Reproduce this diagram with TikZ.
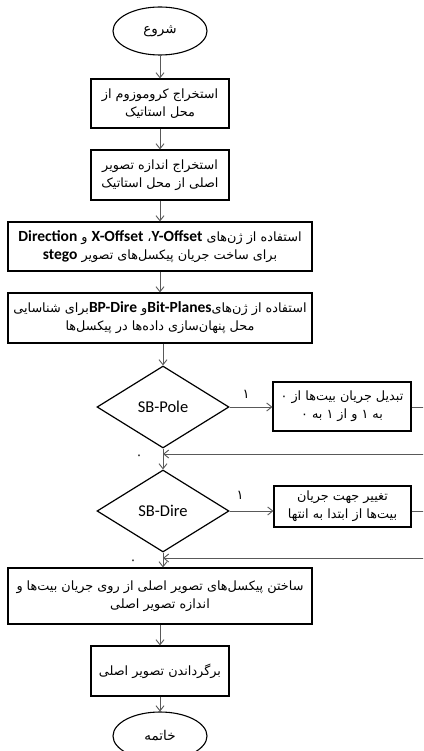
\documentclass[tikz,border=0pt]{standalone}
\usepackage{fontspec}
\usetikzlibrary{shapes.geometric,arrows.meta}
\TeXXeTstate=1
\newfontfamily\arf[Script=Arabic]{DejaVu Sans}
\newfontfamily\latf{Carlito}
\newcommand\rtl[1]{\beginR #1\endR}
\newcommand\lb[1]{{\latf\bfseries\fontsize{15.5}{18}\selectfont\beginL #1\endL}}
\tikzset{
  box/.style={draw=black, line width=1.2pt, minimum width=138pt, minimum height=49pt,
    align=center, inner sep=1pt, font={\arf\fontsize{12.8}{18}\selectfont}},
  wbox/.style={box, minimum width=304pt},
  term/.style={ellipse, draw=black, line width=1.1pt, minimum width=94pt, minimum height=48pt,
    inner sep=0pt, font={\arf\fontsize{13.5}{18}\selectfont}},
  dec/.style={diamond, draw=black, line width=1.2pt, minimum width=132pt, minimum height=82pt,
    inner sep=0pt, font={\latf\fontsize{16.5}{18}\selectfont}},
  arr/.style={draw=black!65, line width=0.9pt, -{Straight Barb[length=5pt,width=8pt]}},
  ln/.style={draw=black!65, line width=0.9pt},
  lab/.style={font={\arf\fontsize{13}{14}\selectfont}, inner sep=0pt}
}
\begin{document}
\begin{tikzpicture}[x=1pt,y=-1pt]
\path[use as bounding box, fill=white] (0,0) rectangle (423,751);
\clip (0,0) rectangle (423,751);
\node[term] (st) at (160,31) {\rtl{شروع}};
\node[box] (b1) at (160,103.5) {\rtl{استخراج کروموزوم از}\\\rtl{محل استاتیک}};
\node[box, minimum height=50pt] (b2) at (160,175) {\rtl{استخراج اندازه تصویر}\\\rtl{اصلی از محل استاتیک}};
\node[wbox] (b3) at (160,246.5) {\rtl{استفاده از ژن‌های \lb{Y-Offset}، \lb{X-Offset} و \lb{Direction}}\\\rtl{برای ساخت جریان پیکسل‌های تصویر \lb{stego}}};
\node[wbox, minimum height=50pt] (b4) at (160,318) {\rtl{استفاده از ژن‌های\lb{Bit-Planes}و \lb{BP-Dire}برای شناسایی}\\\rtl{محل پنهان‌سازی داده‌ها در پیکسل‌ها}};
\node[dec] (d1) at (163,407) {SB-Pole};
\node[box] (p1) at (342,406.5) {\rtl{تبدیل جریان بیت‌ها از ۰}\\\rtl{به ۱ و از ۱ به ۰}};
\node[dec] (d2) at (163,511) {SB-Dire};
\node[box, minimum width=137pt, minimum height=41pt] (p2) at (342.5,506.5) {\rtl{تغییر جهت جریان}\\\rtl{بیت‌ها از ابتدا به انتها}};
\node[wbox, minimum height=56pt] (b5) at (160,596) {\rtl{ساختن پیکسل‌های تصویر اصلی از روی جریان بیت‌ها و}\\\rtl{اندازه تصویر اصلی}};
\node[box, minimum height=50pt] (b6) at (160,671) {\rtl{برگرداندن تصویر اصلی}};
\node[term] (en) at (160,736) {\rtl{خاتمه}};
\coordinate (r1a) at (430,407);
\coordinate (r1b) at (430,454);
\coordinate (j1) at (163,454);
\coordinate (r2a) at (430,511);
\coordinate (r2b) at (430,558);
\coordinate (j2) at (163,558);
\node[lab] (l1) at (246,394) {۱};
\node[lab] (l0) at (139,457) {۰};
\node[lab] (l2) at (240,495) {۱};
\node[lab] (l3) at (133,562) {۰};
\draw[arr] (st) -- (b1);
\draw[arr] (b1) -- (b2);
\draw[arr] (b2) -- (b3);
\draw[arr] (b3) -- (b4);
\draw[arr] (d1.north |- b4.south) -- (d1.north);
\draw[arr] (d1.east) -- (d1.east -| p1.west);
\draw[arr] (d1.south) -- (d2.north);
\draw[ln] (p1.east |- r1a) -- (r1a) -- (r1b);
\draw[arr] (r1b) -- (j1);
\draw[arr] (d2.east) -- (d2.east -| p2.west);
\draw[ln] (p2.east |- r2a) -- (r2a) -- (r2b);
\draw[arr] (r2b) -- (j2);
\draw[arr] (d2.south) -- (d2.south |- b5.north);
\draw[arr] (b5) -- (b6);
\draw[arr] (b6) -- (en);
\end{tikzpicture}
\end{document}
